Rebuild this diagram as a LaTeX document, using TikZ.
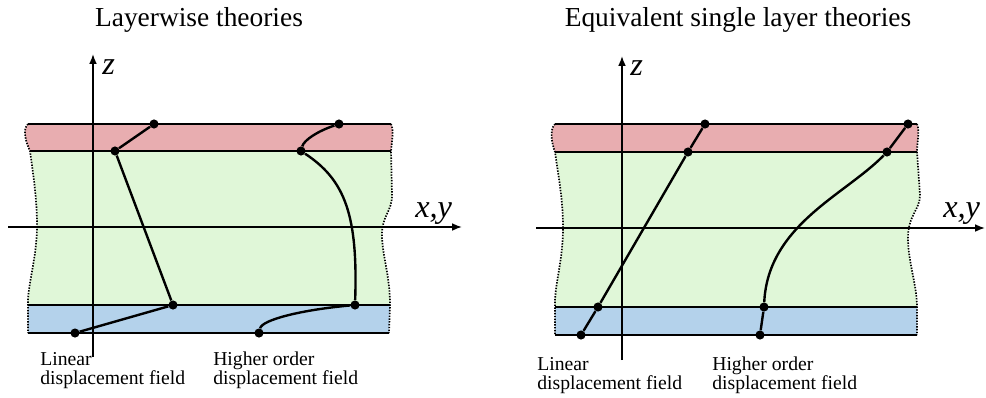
\documentclass[tikz,border=0pt]{standalone}
\usepackage{fontspec}
\setmainfont{Liberation Serif}
\usepackage{xcolor}
\usetikzlibrary{arrows.meta}
\definecolor{skinred}{RGB}{232,173,176}
\definecolor{coregreen}{RGB}{224,247,216}
\definecolor{skinblue}{RGB}{180,210,235}

\tikzset{
  dot/.style={circle, fill=black, inner sep=0pt, minimum size=6.5pt},
  field/.style={line width=1.7pt},
  iface/.style={line width=1.2pt},
  edgeline/.style={line width=1.2pt, dash pattern=on 1pt off 1pt},
  axis/.style={line width=1.1pt, -{Latex[length=7pt,width=5.5pt]}},
  paneltitle/.style={font=\fontsize{19.5}{22}\selectfont},
  caption/.style={font=\fontsize{14}{13.5}\selectfont, align=left, anchor=north west, inner sep=0pt},
  axlabel/.style={font=\fontsize{23}{25}\selectfont\itshape, inner sep=0pt, anchor=base west}
}

\begin{document}
\begin{tikzpicture}[x=0.025cm, y=-0.025cm]
    \useasboundingbox (0,0) rectangle (986,397);

    % Left panel: layerwise theories
    \node[paneltitle] (lwtitle) at (199,20) {Layerwise theories};

    % Laminate (left)
    \begin{scope}
        \clip (28,124) .. controls (22,130) and (26,142) .. (30,151)
            .. controls (34,180) and (37,200) .. (37,226)
            .. controls (37,255) and (29,280) .. (28,300) -- (28,333)
            -- (389,333) -- (390,305)
            .. controls (390,275) and (382,255) .. (382,235)
            .. controls (382,215) and (392,212) .. (392,195) -- (391,151)
            .. controls (392,140) and (394,130) .. (391,124) -- cycle;
        \fill[skinred] (0,124) rectangle (400,151);
        \fill[coregreen] (0,151) rectangle (400,305);
        \fill[skinblue] (0,305) rectangle (400,333);
        \draw[iface] (0,151) -- (400,151);
        \draw[iface] (0,305) -- (400,305);
    \end{scope}
    \draw[edgeline] (28,124) .. controls (22,130) and (26,142) .. (30,151)
        .. controls (34,180) and (37,200) .. (37,226)
        .. controls (37,255) and (29,280) .. (28,300) -- (28,333);
    \draw[edgeline] (391,124) .. controls (394,130) and (392,140) .. (391,151)
        -- (392,195) .. controls (392,212) and (382,215) .. (382,235)
        .. controls (382,255) and (390,275) .. (390,305) -- (389,333);
    \draw[iface] (28,124) -- (391,124);
    \draw[iface] (28,333) -- (389,333);

    % Axes (left)
    \coordinate (lwzfoot) at (93,357);
    \coordinate (lwztip) at (93,54);
    \coordinate (lwxfoot) at (8,227);
    \coordinate (lwxtip) at (462,227);
    \draw[axis] (lwzfoot) -- (lwztip);
    \draw[axis] (lwxfoot) -- (lwxtip);
    \node[axlabel] (lwz) at (102,74) {z};
    \node[axlabel] (lwxy) at (415,217) {x,y};

    % Displacement fields (left)
    \node[dot] (lwlin1) at (154,124) {};
    \node[dot] (lwlin2) at (115,151) {};
    \node[dot] (lwlin3) at (173,305) {};
    \node[dot] (lwlin4) at (75,333) {};
    \draw[field] (lwlin1) -- (lwlin2) -- (lwlin3) -- (lwlin4);

    \node[dot] (lwho1) at (339,124) {};
    \node[dot] (lwho2) at (301,151) {};
    \node[dot] (lwho3) at (355,305) {};
    \node[dot] (lwho4) at (259,333) {};
    \draw[field] (lwho1) .. controls (318,131) and (304,140) .. (lwho2);
    \draw[field] (lwho2) .. controls (345,180) and (358,215) .. (lwho3);
    \draw[field] (lwho3) .. controls (300,310) and (262,320) .. (lwho4);

    \node[caption] (lwlincap) at (40,352) {Linear\\displacement field};
    \node[caption] (lwhocap) at (213,352) {Higher order\\displacement field};

    % Right panel: equivalent single layer theories
    \node[paneltitle] (estitle) at (738,20) {Equivalent single layer theories};

    % Laminate (right)
    \begin{scope}
        \clip (555,124) .. controls (549,130) and (552,144) .. (555,152)
            .. controls (559,180) and (563,200) .. (563,228)
            .. controls (563,258) and (556,280) .. (555,300) -- (555,335)
            -- (917,335) -- (917,307)
            .. controls (917,285) and (908,262) .. (908,238)
            .. controls (908,215) and (920,210) .. (920,195) -- (917,152)
            .. controls (917,142) and (920,130) .. (917,124) -- cycle;
        \fill[skinred] (540,124) rectangle (930,152);
        \fill[coregreen] (540,152) rectangle (930,307);
        \fill[skinblue] (540,307) rectangle (930,335);
        \draw[iface] (540,152) -- (930,152);
        \draw[iface] (540,307) -- (930,307);
    \end{scope}
    \draw[edgeline] (555,124) .. controls (549,130) and (552,144) .. (555,152)
        .. controls (559,180) and (563,200) .. (563,228)
        .. controls (563,258) and (556,280) .. (555,300) -- (555,335);
    \draw[edgeline] (917,124) .. controls (920,130) and (917,142) .. (917,152)
        -- (920,195) .. controls (920,210) and (908,215) .. (908,238)
        .. controls (908,262) and (917,285) .. (917,307) -- (917,335);
    \draw[iface] (555,124) -- (917,124);
    \draw[iface] (555,335) -- (917,335);

    % Axes (right)
    \coordinate (eszfoot) at (622,360);
    \coordinate (esztip) at (622,56);
    \coordinate (esxfoot) at (536,228);
    \coordinate (esxtip) at (985,228);
    \draw[axis] (eszfoot) -- (esztip);
    \draw[axis] (esxfoot) -- (esxtip);
    \node[axlabel] (esz) at (630,75) {z};
    \node[axlabel] (esxy) at (943,217) {x,y};

    % Displacement fields (right)
    \node[dot] (eslin1) at (705,124) {};
    \node[dot] (eslin2) at (688,152) {};
    \node[dot] (eslin3) at (598,307) {};
    \node[dot] (eslin4) at (581,335) {};
    \draw[field] (eslin1) -- (eslin2) -- (eslin3) -- (eslin4);

    \node[dot] (esho1) at (908,124) {};
    \node[dot] (esho2) at (887,152) {};
    \node[dot] (esho3) at (764,307) {};
    \node[dot] (esho4) at (760,335) {};
    \draw[field] (esho1) -- (esho2);
    \draw[field] (esho2) .. controls (845,195) and (768,225) .. (esho3);
    \draw[field] (esho3) -- (esho4);

    \node[caption] (eslincap) at (537,357) {Linear\\displacement field};
    \node[caption] (eshocap) at (712,357) {Higher order\\displacement field};
\end{tikzpicture}
\end{document}
